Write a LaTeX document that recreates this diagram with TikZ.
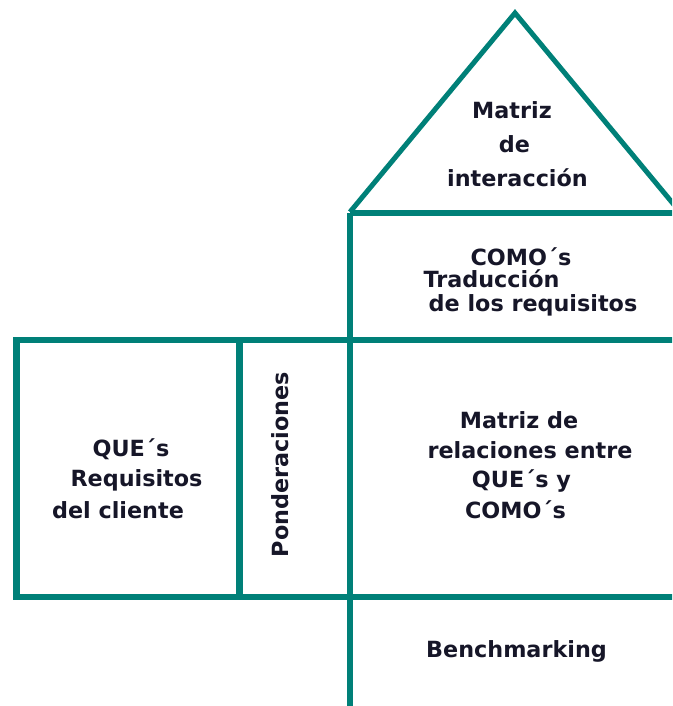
\documentclass[tikz,border=0pt]{standalone}
\usepackage{fontspec}
\setmainfont{DejaVu Sans}
\definecolor{teal}{RGB}{0,128,120}
\definecolor{ink}{RGB}{22,22,40}
\tikzset{
  wall/.style={draw=teal, line width=6.8pt, line join=miter},
  roof/.style={draw=teal, line width=5pt, line join=miter},
  lbl/.style={inner sep=0pt, anchor=base, text=ink, font=\fontsize{22.3}{27}\selectfont\bfseries},
}
\begin{document}
\begin{tikzpicture}[x=1pt, y=-1pt]
\useasboundingbox (0,0) rectangle (672,706);
\clip (0,0) rectangle (672,706);
% key points
\coordinate (apex) at (515,13);
\coordinate (roofL) at (350,212);
\coordinate (roofR) at (680,212);
\coordinate (lboxTL) at (16.5,340);
\coordinate (lboxBR) at (239.5,597);
\coordinate (colTop) at (350,213);
\coordinate (colBot) at (350,712);
\coordinate (comoR) at (680,213);
\coordinate (midR) at (680,340);
\coordinate (botL) at (16.5,597);
\coordinate (botR) at (680,597);
% roof
\draw[roof] (roofL) -- (apex) -- (roofR);
% walls
\draw[wall] (lboxTL) rectangle (lboxBR);
\draw[wall] (lboxTL) -- (midR);
\draw[wall] (botL) -- (botR);
\draw[wall] (colTop) -- (comoR);
\draw[wall] (colTop) -- (colBot);
% roof text
\node[lbl] (m1) at (512,119) {Matriz};
\node[lbl] (m2) at (514.5,152) {de};
\node[lbl] (m3) at (517.5,186) {interacción};
% COMO box
\node[lbl] (c1) at (521,265) {COMO´s};
\node[lbl] (c2) at (491.5,287) {Traducción};
\node[lbl] (c3) at (533,311) {de los requisitos};
% left box
\node[lbl] (q1) at (131,456) {QUE´s};
\node[lbl] (q2) at (136.5,486) {Requisitos};
\node[lbl] (q3) at (118,518) {del cliente};
% ponderaciones
\node[lbl, rotate=90] (pond) at (288,464.5) {Ponderaciones};
% relations matrix
\node[lbl] (r1) at (519,428) {Matriz de};
\node[lbl] (r2) at (530,458) {relaciones entre};
\node[lbl] (r3) at (521.5,487) {QUE´s y};
\node[lbl] (r4) at (515.5,518) {COMO´s};
% benchmarking
\node[lbl] (bench) at (516.5,657) {Benchmarking};
\end{tikzpicture}
\end{document}
